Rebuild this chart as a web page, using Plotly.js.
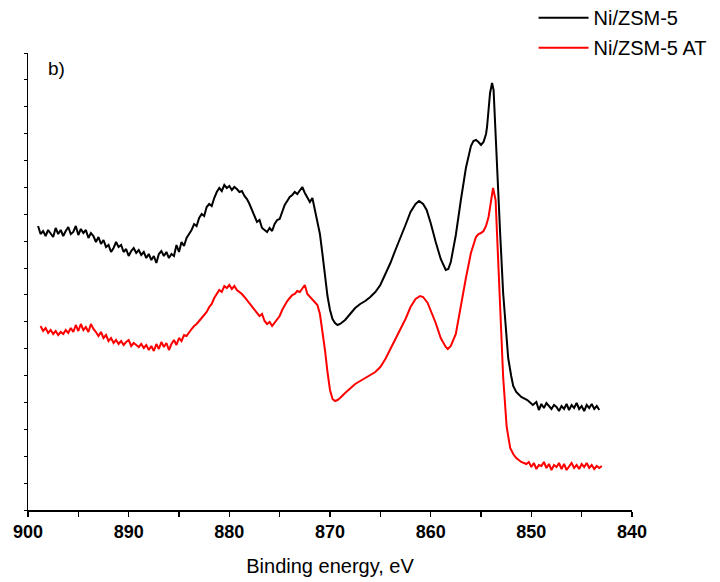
<!DOCTYPE html>
<html>
<head>
<meta charset="utf-8">
<script src="https://cdn.plot.ly/plotly-3.0.1.min.js"></script>
<style>html,body{margin:0;padding:0;background:#fff;}#chart{width:720px;height:582px;}</style>
</head>
<body>
<div id="chart"></div>
<script>
// Ni/ZSM-5 : binding energy (eV) and intensity (a.u.)
const blackEV = [
899.00,898.75,898.50,898.25,898.00,897.75,897.50,897.25,897.00,896.75,
896.50,896.25,896.00,895.75,895.50,895.25,895.00,894.75,894.50,894.25,
894.00,893.75,893.50,893.25,893.00,892.75,892.50,892.25,892.00,891.75,
891.50,891.25,891.00,890.75,890.50,890.25,890.00,889.75,889.50,889.25,
889.00,888.75,888.50,888.25,888.00,887.75,887.50,887.25,887.00,886.75,
886.50,886.25,886.00,885.75,885.50,885.25,885.00,884.75,884.50,884.25,
884.00,883.75,883.50,883.25,883.00,882.75,882.50,882.25,882.00,881.75,
881.50,881.25,881.00,880.75,880.50,880.25,880.00,879.75,879.50,879.25,
879.00,878.75,878.50,878.25,878.00,877.75,877.50,877.25,877.00,876.75,
876.50,876.25,876.00,875.75,875.50,875.25,875.00,874.75,874.50,874.25,
874.00,873.75,873.50,873.25,873.00,872.75,872.50,872.25,872.00,871.75,
871.50,871.25,871.00,870.75,870.50,870.25,870.00,869.75,869.50,869.25,
869.00,868.50,868.00,867.50,867.00,866.50,866.00,865.50,865.00,864.50,
864.00,863.50,863.00,862.50,862.00,861.50,861.15,860.75,860.40,860.00,
859.50,859.00,858.50,858.25,858.00,857.50,857.00,856.50,856.00,855.75,
855.50,855.25,855.00,854.75,854.50,854.40,854.10,853.90,853.75,853.45,
853.10,852.80,852.50,852.30,852.00,851.80,851.50,851.00,850.40,849.85,
849.50,849.25,849.00,848.75,848.50,848.25,848.00,847.75,847.50,847.25,
847.00,846.75,846.50,846.25,846.00,845.75,845.50,845.25,845.00,844.75,
844.50,844.25,844.00,843.75,843.50,843.25
];
const blackI = [
284,276,279,274,280,277,273,282,276,280,
274,279,283,276,278,284,275,281,277,280,
272,277,274,268,273,266,270,263,265,258,
262,268,263,265,258,261,254,259,262,257,
260,255,258,252,256,250,254,247,256,259,
254,258,252,256,254,265,258,268,264,272,
276,280,286,284,292,296,294,303,306,304,
312,318,322,319,325,322,324,320,323,321,
318,319,314,311,306,300,294,288,290,282,
280,278,282,279,286,290,291,299,305,309,
313,315,318,316,320,323,317,313,308,312,
300,290,276,256,236,214,200,191,187,185,
186,190,196,202,206,209,213,218,225,236,
247,260,272,285,298,306,309,306,300,287,
268,251,240,241,248,275,310,342,364,369,
370,368,365,368,376,383,417,427,420,350,
277,217,180,152,134,124,118,113,110,105,
108,100,106,102,107,104,101,105,103,99,
104,101,106,100,105,102,107,101,104,99,
105,102,106,101,104,100
];

// Ni/ZSM-5 AT : binding energy (eV) and intensity (a.u.)
const redEV = [
898.75,898.50,898.25,898.00,897.75,897.50,897.25,897.00,896.75,896.50,
896.25,896.00,895.75,895.50,895.25,895.00,894.75,894.50,894.25,894.00,
893.75,893.50,893.25,893.00,892.75,892.50,892.25,892.00,891.75,891.50,
891.25,891.00,890.75,890.50,890.25,890.00,889.75,889.50,889.25,889.00,
888.75,888.50,888.25,888.00,887.75,887.50,887.25,887.00,886.75,886.50,
886.25,886.00,885.75,885.50,885.25,885.00,884.75,884.50,884.25,884.00,
883.75,883.50,883.25,883.00,882.75,882.50,882.25,882.00,881.75,881.50,
881.25,881.00,880.75,880.50,880.25,880.00,879.75,879.50,879.25,879.00,
878.75,878.50,878.25,878.00,877.75,877.50,877.25,877.00,876.75,876.50,
876.25,876.00,875.75,875.50,875.25,875.00,874.75,874.50,874.25,874.00,
873.75,873.50,873.25,873.00,872.75,872.50,872.25,872.00,871.75,871.50,
871.25,871.00,870.75,870.50,870.25,870.00,869.75,869.50,869.25,869.00,
868.50,868.00,867.50,867.00,866.50,866.00,865.50,865.00,864.50,864.00,
863.50,863.00,862.50,862.00,861.50,861.05,860.75,860.30,860.00,859.50,
859.00,858.50,858.30,858.00,857.50,857.00,856.50,856.00,855.75,855.50,
855.25,855.00,854.75,854.50,854.25,854.00,853.80,853.55,853.30,853.00,
852.80,852.45,852.10,851.80,851.50,851.25,851.00,850.50,850.25,850.00,
849.75,849.50,849.25,849.00,848.75,848.50,848.25,848.00,847.75,847.50,
847.25,847.00,846.75,846.50,846.25,846.00,845.75,845.50,845.25,845.00,
844.75,844.50,844.25,844.00,843.75,843.50,843.25,843.00
];
const redI = [
184,179,182,177,180,176,179,175,178,176,
180,177,182,178,185,179,186,180,183,178,
186,181,178,174,178,172,175,169,172,167,
170,166,169,165,168,170,164,167,165,163,
166,162,165,160,164,159,166,161,168,163,
167,160,166,170,165,172,169,175,174,178,
181,184,186,189,192,195,198,203,206,212,
216,220,218,224,222,225,221,224,220,218,
216,213,210,207,204,200,198,194,196,189,
186,188,184,187,191,194,200,205,209,212,
215,216,219,218,221,225,216,213,210,208,
205,196,180,160,138,120,111,109,110,112,
117,122,126,129,132,135,138,143,151,161,
171,180,191,203,211,214,213,207,200,187,
172,163,161,164,176,205,232,257,266,273,
276,277,279,284,293,308,322,310,250,183,
133,83,62,56,52,50,48,46,48,43,
47,41,45,44,48,42,46,40,45,43,
47,41,46,40,44,47,42,45,41,46,
43,47,42,45,41,44,42,44
];

const seriesNames = ['Ni/ZSM-5', 'Ni/ZSM-5 AT'];
const xTitle = 'Binding energy, eV';
const panelLabel = 'b)';

const font = 'Arial, "Liberation Sans", sans-serif';

const traces = [
  {x: blackEV, y: blackI, type: 'scatter', mode: 'lines', name: seriesNames[0],
   legendgroup: 'a', line: {color: '#000000', width: 2}},
  {x: redEV, y: redI, type: 'scatter', mode: 'lines', name: seriesNames[1],
   legendgroup: 'b', line: {color: '#ff0000', width: 2}}
];

const layout = {
  width: 720, height: 582,
  margin: {l: 28, r: 88, t: 53, b: 72, autoexpand: false},
  paper_bgcolor: '#ffffff', plot_bgcolor: '#ffffff',
  showlegend: true,
  legend: {x: 0.837, y: 1.12, xanchor: 'left', yanchor: 'top',
           font: {family: font, size: 20, color: '#000'}, bgcolor: 'rgba(0,0,0,0)',
           traceorder: 'grouped', tracegroupgap: 1, itemwidth: 50},
  xaxis: {
    range: [900, 840], dtick: 10, tick0: 840,
    showline: true, linecolor: '#000', linewidth: 1.5,
    ticks: 'outside', ticklen: 5, tickwidth: 1.5, tickcolor: '#000',
    minor: {dtick: 5, ticks: 'outside', ticklen: 5, tickwidth: 1.2, tickcolor: '#000'},
    showgrid: false, zeroline: false,
    tickfont: {family: font, size: 18, color: '#000', weight: 'bold'},
    title: {text: xTitle, font: {family: font, size: 20, color: '#000'}, standoff: 18}
  },
  yaxis: {
    range: [0, 457], tick0: 0, dtick: 457 / 17,
    showline: true, linecolor: '#000', linewidth: 1.5,
    ticks: 'outside', ticklen: 3, tickwidth: 1, tickcolor: '#000',
    showticklabels: false, showgrid: false, zeroline: false
  },
  annotations: [{
    text: panelLabel, xref: 'paper', yref: 'paper', x: 0.029, y: 0.965,
    xanchor: 'left', yanchor: 'middle', showarrow: false,
    font: {family: font, size: 19, color: '#000'}
  }]
};

Plotly.newPlot('chart', traces, layout, {displayModeBar: false, staticPlot: true});
</script>
</body>
</html>
